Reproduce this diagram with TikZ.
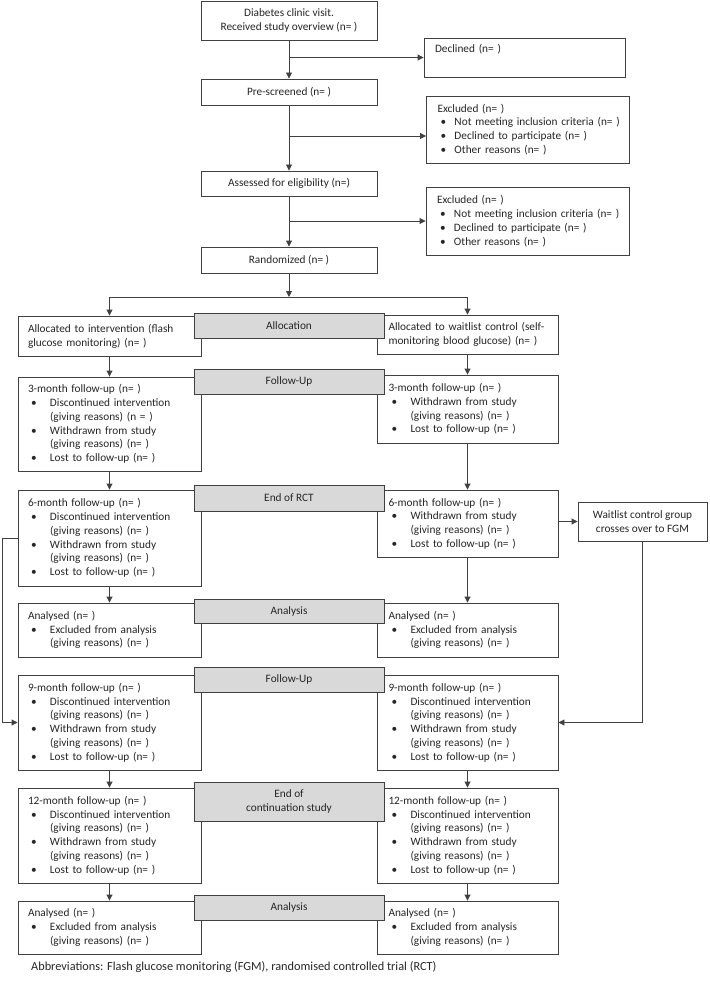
\documentclass[tikz,border=0pt]{standalone}
\usepackage{fontspec}
\setmainfont{Carlito}
\usetikzlibrary{arrows.meta,calc}
\definecolor{bord}{HTML}{404040}
\definecolor{txt}{HTML}{262626}
\definecolor{greyfill}{HTML}{D9D9D9}
\newcommand\myb{\makebox[22pt][l]{\hspace{3pt}•}}
\newcommand\myi{\hspace*{22pt}}
\newcommand\myc[1]{\mbox{\makebox[17pt][l]{\hspace{3pt}•}#1}}
\begin{document}
\begin{tikzpicture}[x=1pt,y=1pt,
  font=\fontsize{11.3}{13.8}\selectfont, text=txt,
  wbox/.style={draw=bord, line width=0.9pt, fill=white, inner ysep=0pt, align=center},
  lbox/.style={wbox, minimum width=183, text width=163, inner xsep=10pt, align=left},
  rbox/.style={wbox, minimum width=181, text width=158, inner xsep=11.5pt, align=left},
  exbox/.style={wbox, text width=181, inner xsep=11pt, align=left},
  gbox/.style={draw=bord, line width=0.9pt, fill=greyfill, minimum width=190, inner ysep=0pt, align=center},
  arr/.style={draw=bord, line width=0.9pt, -{Triangle[length=6pt,width=6pt]}},
  ln/.style={draw=bord, line width=0.9pt}]
\useasboundingbox (0,0) rectangle (709,-984);

% top chain
\node[wbox, minimum width=176, minimum height=39] (top) at (289,-20.5) {Diabetes clinic visit.\\Received study overview (n= )};
\node[wbox, minimum width=201, minimum height=39, text width=179, inner xsep=11pt, align=left] (decl) at (524.5,-57.5) {Declined (n= )\\\strut};
\node[wbox, minimum width=176, minimum height=26] (pre) at (289,-92) {Pre-screened (n= )};
\node[exbox, minimum height=67] (ex1) at (528,-129.5)
 {Excluded (n= )\\\myc{Not meeting inclusion criteria (n= )}\\\myc{Declined to participate (n= )}\\\myc{Other reasons (n= )}};
\node[wbox, minimum width=176, minimum height=25] (ass) at (289,-183.5) {Assessed for eligibility (n=)};
\node[exbox, minimum height=68] (ex2) at (527.5,-221)
 {Excluded (n= )\\\myc{Not meeting inclusion criteria (n= )}\\\myc{Declined to participate (n= )}\\\myc{Other reasons (n= )}};
\node[wbox, minimum width=176, minimum height=26] (ran) at (289,-260) {Randomized (n= )};

% left column
\node[lbox, minimum height=40] (la) at (109.5,-336) {Allocated to intervention (flash\\glucose monitoring) (n= )};
\node[lbox, minimum height=94] (l3) at (109.5,-424) {3-month follow-up (n= )\\\myb Discontinued intervention\\\myi(giving reasons) (n = )\\\myb Withdrawn from study\\\myi(giving reasons) (n= )\\\myb Lost to follow-up (n= )};
\node[lbox, minimum height=96] (l6) at (109.5,-538) {6-month follow-up (n= )\\\myb Discontinued intervention\\\myi(giving reasons) (n= )\\\myb Withdrawn from study\\\myi(giving reasons) (n= )\\\myb Lost to follow-up (n= )};
\node[lbox, minimum height=54] (lanl) at (109.5,-630) {Analysed (n= )\\\myb Excluded from analysis\\\myi(giving reasons) (n= )};
\node[lbox, minimum height=95] (l9) at (109.5,-722.5) {9-month follow-up (n= )\\\myb Discontinued intervention\\\myi(giving reasons) (n= )\\\myb Withdrawn from study\\\myi(giving reasons) (n= )\\\myb Lost to follow-up (n= )};
\node[lbox, minimum height=95] (l12) at (109.5,-835.5) {12-month follow-up (n= )\\\myb Discontinued intervention\\\myi(giving reasons) (n= )\\\myb Withdrawn from study\\\myi(giving reasons) (n= )\\\myb Lost to follow-up (n= )};
\node[lbox, minimum height=53] (lanl2) at (109.5,-927.5) {Analysed (n= )\\\myb Excluded from analysis\\\myi(giving reasons) (n= )};

% right column
\node[rbox, minimum height=39] (ra) at (467.5,-334.5) {Allocated to waitlist control (self-\\monitoring blood glucose) (n= )};
\node[rbox, minimum height=68] (r3) at (467.5,-409) {3-month follow-up (n= )\\\myb Withdrawn from study\\\myi(giving reasons) (n= )\\\myb Lost to follow-up (n= )};
\node[rbox, minimum height=67] (r6) at (467.5,-523.5) {6-month follow-up (n= )\\\myb Withdrawn from study\\\myi(giving reasons) (n= )\\\myb Lost to follow-up (n= )};
\node[rbox, minimum height=54] (ranl) at (467.5,-630) {Analysed (n= )\\\myb Excluded from analysis\\\myi(giving reasons) (n= )};
\node[rbox, minimum height=95] (r9) at (467.5,-722.5) {9-month follow-up (n= )\\\myb Discontinued intervention\\\myi(giving reasons) (n= )\\\myb Withdrawn from study\\\myi(giving reasons) (n= )\\\myb Lost to follow-up (n= )};
\node[rbox, minimum height=95] (r12) at (467.5,-835.5) {12-month follow-up (n= )\\\myb Discontinued intervention\\\myi(giving reasons) (n= )\\\myb Withdrawn from study\\\myi(giving reasons) (n= )\\\myb Lost to follow-up (n= )};
\node[rbox, minimum height=53] (ranl2) at (467.5,-927.5) {Analysed (n= )\\\myb Excluded from analysis\\\myi(giving reasons) (n= )};

\node[wbox, minimum width=129, minimum height=39] (cross) at (642.5,-521.5) {Waitlist control group\\crosses over to FGM};

% grey stage labels
\node[gbox, minimum height=25] (galloc) at (289,-325.5) {Allocation};
\node[gbox, minimum height=25] (gfu1) at (289,-381.5) {Follow-Up};
\node[gbox, minimum height=26] (geor) at (289,-498) {End of RCT};
\node[gbox, minimum height=24] (ganl) at (289,-611) {Analysis};
\node[gbox, minimum height=25] (gfu2) at (289,-679.5) {Follow-Up};
\node[gbox, minimum height=39] (geoc) at (289,-801.5) {End of\\continuation study};
\node[gbox, minimum height=25] (ganl2) at (289,-907.5) {Analysis};

\node[anchor=west, inner sep=0pt, font=\fontsize{12.3}{14}\selectfont] (abbr) at (31,-967) {Abbreviations: Flash glucose monitoring (FGM), randomised controlled trial (RCT)};

% connectors top chain
\draw[arr] (top.south) -- (pre.north);
\draw[arr] (top.south |- decl.west) -- (decl.west);
\coordinate (b1) at (289,-136);
\draw[arr] (pre.south) -- (ass.north);
\draw[arr] (b1) -- (b1 -| ex1.west);
\coordinate (b2) at (289,-221);
\draw[arr] (ass.south) -- (ran.north);
\draw[arr] (b2) -- (ex2.west);
\coordinate (split) at (289,-297);
\draw[arr] (ran.south) -- (split);
\draw[ln] (split -| la.north) -- (split -| ra.north);
\draw[arr] (split -| la.north) -- (la.north);
\draw[arr] (split -| ra.north) -- (ra.north);

% columns
\draw[arr] (la.south) -- (l3.north);
\draw[arr] (l3.south) -- (l6.north);
\draw[arr] (l6.south) -- (lanl.north);
\draw[arr] (l9.south) -- (l12.north);
\draw[arr] (l12.south) -- (lanl2.north);
\draw[arr] (ra.south) -- (r3.north);
\draw[arr] (r3.south) -- (r6.north);
\draw[arr] (r6.south) -- (ranl.north);
\draw[arr] (r9.south) -- (r12.north);
\draw[arr] (r12.south) -- (ranl2.north);

% loops
\draw[arr] (l6.west) -- ++(-15,0) |- (l9.west);
\draw[arr] (cross.west -| r6.east) -- (cross.west);
\draw[arr] (cross.south) |- (r9.east);
\end{tikzpicture}
\end{document}
